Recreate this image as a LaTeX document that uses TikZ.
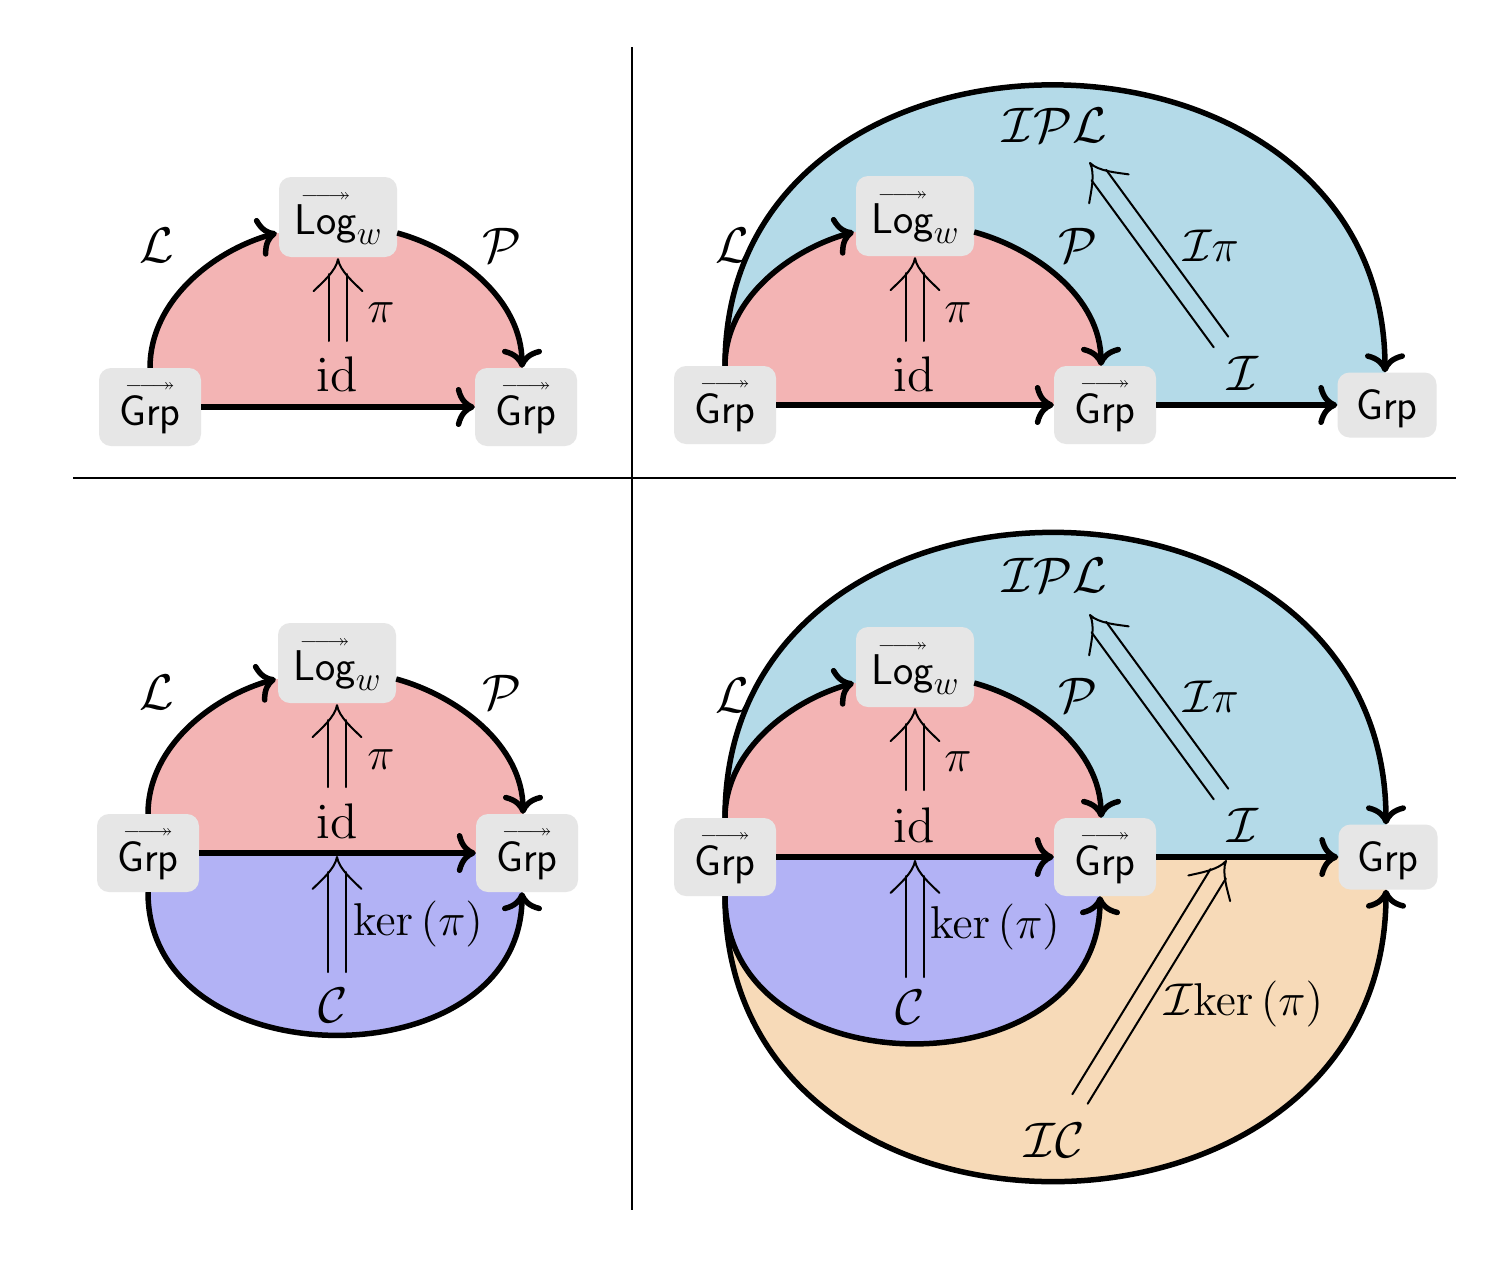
\documentclass[tikz,border=0pt]{standalone}
\usepackage{amsmath,amssymb}
\usepackage{graphicx}
\usetikzlibrary{arrows.meta,calc}
\DeclareFontShape{OML}{cmm}{m}{it}{<-6>cmmi5<6-8>cmmi7<8-11>cmmi10<11->cmmi12}{}
\DeclareFontShape{OMS}{cmsy}{m}{n}{<-6>cmsy5<6-8>cmsy7<8->cmsy10}{}
\DeclareFontShape{OT1}{cmr}{m}{n}{<-6>cmr5<6-8>cmr7<8-11>cmr10<11->cmr12}{}
\pgfdeclarelayer{background}
\pgfsetlayers{background,main}
\definecolor{pinkc}{RGB}{243,180,180}
\definecolor{lavc}{RGB}{178,178,245}
\definecolor{bluec}{RGB}{180,218,232}
\definecolor{peachc}{RGB}{247,218,184}
\definecolor{boxc}{RGB}{230,230,230}
\newcommand\ArrOver{\scalebox{1.04}[1]{$\scriptscriptstyle\relbar\joinrel\relbar\joinrel\twoheadrightarrow$}}
\newcommand\ovr[1]{\vbox{\offinterlineskip\halign{\hfil##\hfil\cr\ArrOver\cr\noalign{\kern3pt}\textsf{#1}\cr}}}
\newcommand\logw{\ovr{Log}\raisebox{-10pt}{\fontsize{34}{34}\selectfont$w$}}
\newcommand\plaingrp{\raisebox{-4pt}[\height][\depth]{\textsf{Grp}}}
% double arrow from #1 (start) to #2 (tip)
\newcommand\dblarr[2]{%
  \draw[thinln] ($(#1)!9pt!90:(#2)$) -- ($($(#2)!15pt!(#1)$)!9pt!-90:(#1)$);
  \draw[thinln] ($(#1)!9pt!-90:(#2)$) -- ($($(#2)!15pt!(#1)$)!9pt!90:(#1)$);
  \draw[thinln] ($(#2)!40.3pt!37.4:(#1)$) .. controls ($(#2)!29.1pt!34.5:(#1)$) and ($(#2)!12.2pt!9.5:(#1)$) .. (#2)
     .. controls ($(#2)!12.2pt!-9.5:(#1)$) and ($(#2)!29.1pt!-34.5:(#1)$) .. ($(#2)!40.3pt!-37.4:(#1)$);
}
\tikzset{
  gbox/.style={fill=boxc, rounded corners=12pt, inner sep=0pt, minimum width=102pt, minimum height=78pt, font=\fontsize{43}{46}\selectfont},
  lbox/.style={gbox, minimum width=118pt, minimum height=80pt},
  pbox/.style={gbox, minimum width=99pt, minimum height=65pt},
  lab/.style={inner sep=0pt, font=\fontsize{50}{60}\selectfont},
  labs/.style={inner sep=0pt, font=\fontsize{46}{54}\selectfont},
  thk/.style={line width=5.5pt},
  arr/.style={thk, -{Computer Modern Rightarrow[length=19pt,width=40pt]}},
  thinln/.style={line width=2pt, line join=round, line cap=round},
  sepline/.style={line width=1.3pt},
}
\begin{document}
\begin{tikzpicture}[x=1pt,y=-1pt]
\useasboundingbox (0,0) rectangle (1496,1266);
\begin{pgfonlayer}{background}
\fill[white] (0,0) rectangle (1496,1266);
\end{pgfonlayer}

% separators
\coordinate (v1) at (632,47); \coordinate (v2) at (632,1210);
\coordinate (h1) at (73,478); \coordinate (h2) at (1456,478);
\draw[sepline] (v1) -- (v2);
\draw[sepline] (h1) -- (h2);

% ================= Panel A =================
\node[gbox] (gA1) at (150,407) {\ovr{Grp}};
\node[lbox] (lA) at (338,217) {\logw};
\node[gbox] (gA2) at (526,407) {\ovr{Grp}};
\coordinate (aLs) at (gA1.north);
\coordinate (aLe) at ($(lA.west)+(-2,16)$);
\coordinate (aPs) at ($(lA.east)+(0,16)$);
\coordinate (aPe) at ($(gA2.north)+(-4,0)$);
\begin{pgfonlayer}{background}
\fill[pinkc] (aLs) .. controls +(0,-68) and +(-62,17) .. (aLe) -- (aPs) .. controls +(62,17) and +(0,-68) .. (aPe) -- (gA2.center) -- (gA1.center) -- cycle;
\end{pgfonlayer}
\draw[arr] (aLs) .. controls +(0,-68) and +(-62,17) .. (aLe);
\draw[arr] (aPs) .. controls +(62,17) and +(0,-68) .. (aPe);
\draw[arr] (gA1) -- (gA2);
\node[lab] (aL) at (157,245) {$\mathcal{L}$};
\node[lab] (aP) at (502,245) {$\mathcal{P}$};
\node[labs] (api) at (381,313) {$\pi$};
\node[lab] (aid) at (337,374) {$\mathrm{id}$};
\coordinate (aPi1) at (338,341);
\coordinate (aPi2) at ($(lA.south)+(0,2)$);
\dblarr{aPi1}{aPi2}

% ================= Panel B =================
\node[gbox] (gB1) at (725,405) {\ovr{Grp}};
\node[lbox] (lB) at (915,216) {\logw};
\node[gbox] (gB2) at (1105,405) {\ovr{Grp}};
\node[pbox] (gB3) at (1387,405) {\plaingrp};
\coordinate (bLs) at (gB1.north);
\coordinate (bLe) at ($(lB.west)+(-2,16)$);
\coordinate (bPs) at ($(lB.east)+(0,16)$);
\coordinate (bPe) at ($(gB2.north)+(-4,0)$);
\coordinate (bOe) at ($(gB3.north)+(-2,0)$);
\begin{pgfonlayer}{background}
\fill[bluec] (bLs) .. controls +(0,-378) and +(0,-378) .. (bOe) -- (gB3.center) -- (gB1.center) -- cycle;
\fill[pinkc] (bLs) .. controls +(0,-68) and +(-62,17) .. (bLe) -- (bPs) .. controls +(62,17) and +(0,-68) .. (bPe) -- (gB2.center) -- (gB1.center) -- cycle;
\end{pgfonlayer}
\draw[arr] (bLs) .. controls +(0,-378) and +(0,-378) .. (bOe);
\draw[arr] (bLs) .. controls +(0,-68) and +(-62,17) .. (bLe);
\draw[arr] (bPs) .. controls +(62,17) and +(0,-68) .. (bPe);
\draw[arr] (gB1) -- (gB2);
\draw[arr] (gB2) -- (gB3);
\node[lab] (bL) at (733,245) {$\mathcal{L}$};
\node[lab] (bP) at (1078,245) {$\mathcal{P}$};
\node[lab] (bIPL) at (1055,125) {$\mathcal{IPL}$};
\node[labs] (bIpi) at (1211,246) {$\mathcal{I}\pi$};
\node[labs] (bpi) at (958,313) {$\pi$};
\node[lab] (bid) at (914,374) {$\mathrm{id}$};
\node[lab] (bI) at (1243,373) {$\mathcal{I}$};
\coordinate (bPi1) at (915,341);
\coordinate (bPi2) at ($(lB.south)+(0,2)$);
\dblarr{bPi1}{bPi2}
\coordinate (bIp1) at (1221,342);
\coordinate (bIp2) at (1090,163);
\dblarr{bIp1}{bIp2}

% ================= Panel C =================
\node[gbox] (gC1) at (148,853) {\ovr{Grp}};
\node[lbox] (lC) at (337,663) {\logw};
\node[gbox] (gC2) at (527,853) {\ovr{Grp}};
\coordinate (cLs) at (gC1.north);
\coordinate (cLe) at ($(lC.west)+(-2,16)$);
\coordinate (cPs) at ($(lC.east)+(0,16)$);
\coordinate (cPe) at ($(gC2.north)+(-4,0)$);
\coordinate (cCs) at (gC1.south);
\coordinate (cCe) at ($(gC2.south)+(-5,0)$);
\begin{pgfonlayer}{background}
\fill[pinkc] (cLs) .. controls +(0,-68) and +(-62,17) .. (cLe) -- (cPs) .. controls +(62,17) and +(0,-68) .. (cPe) -- (gC2.center) -- (gC1.center) -- cycle;
\fill[lavc] (cCs) .. controls +(0,190) and +(0,190) .. (cCe) -- (gC2.center) -- (gC1.center) -- cycle;
\end{pgfonlayer}
\draw[arr] (cLs) .. controls +(0,-68) and +(-62,17) .. (cLe);
\draw[arr] (cPs) .. controls +(62,17) and +(0,-68) .. (cPe);
\draw[arr] (cCs) .. controls +(0,190) and +(0,190) .. (cCe);
\draw[arr] (gC1) -- (gC2);
\node[lab] (cL) at (157,692) {$\mathcal{L}$};
\node[lab] (cP) at (502,692) {$\mathcal{P}$};
\node[labs] (cpi) at (381,760) {$\pi$};
\node[lab] (cid) at (337,821) {$\mathrm{id}$};
\node[labs] (cker) at (418,924) {$\ker\left(\pi\right)$};
\node[lab] (cC) at (333,1005) {$\mathcal{C}$};
\coordinate (cPi1) at (337,787);
\coordinate (cPi2) at ($(lC.south)+(0,2)$);
\dblarr{cPi1}{cPi2}
\coordinate (cK1) at (337,972);
\coordinate (cK2) at (337,857);
\dblarr{cK1}{cK2}

% ================= Panel D =================
\node[gbox] (gD1) at (725,857) {\ovr{Grp}};
\node[lbox] (lD) at (915,667) {\logw};
\node[gbox] (gD2) at (1105,857) {\ovr{Grp}};
\node[pbox] (gD3) at (1388,857) {\plaingrp};
\coordinate (dLs) at (gD1.north);
\coordinate (dLe) at ($(lD.west)+(-2,16)$);
\coordinate (dPs) at ($(lD.east)+(0,16)$);
\coordinate (dPe) at ($(gD2.north)+(-4,0)$);
\coordinate (dOe) at ($(gD3.north)+(-2,0)$);
\coordinate (dCs) at (gD1.south);
\coordinate (dCe) at ($(gD2.south)+(-5,0)$);
\coordinate (dBe) at ($(gD3.south)+(-2,0)$);
\begin{pgfonlayer}{background}
\fill[bluec] (dLs) .. controls +(0,-384) and +(0,-384) .. (dOe) -- (gD3.center) -- (gD1.center) -- cycle;
\fill[peachc] (dCs) .. controls +(0,384) and +(0,384) .. (dBe) -- (gD3.center) -- (gD1.center) -- cycle;
\fill[pinkc] (dLs) .. controls +(0,-68) and +(-62,17) .. (dLe) -- (dPs) .. controls +(62,17) and +(0,-68) .. (dPe) -- (gD2.center) -- (gD1.center) -- cycle;
\fill[lavc] (dCs) .. controls +(0,196) and +(0,196) .. (dCe) -- (gD2.center) -- (gD1.center) -- cycle;
\end{pgfonlayer}
\draw[arr] (dLs) .. controls +(0,-384) and +(0,-384) .. (dOe);
\draw[arr] (dCs) .. controls +(0,384) and +(0,384) .. (dBe);
\draw[arr] (dLs) .. controls +(0,-68) and +(-62,17) .. (dLe);
\draw[arr] (dPs) .. controls +(62,17) and +(0,-68) .. (dPe);
\draw[arr] (dCs) .. controls +(0,196) and +(0,196) .. (dCe);
\draw[arr] (gD1) -- (gD2);
\draw[arr] (gD2) -- (gD3);
\node[lab] (dL) at (733,695) {$\mathcal{L}$};
\node[lab] (dP) at (1078,695) {$\mathcal{P}$};
\node[lab] (dIPL) at (1055,575) {$\mathcal{IPL}$};
\node[labs] (dIpi) at (1211,697) {$\mathcal{I}\pi$};
\node[labs] (dpi) at (958,762) {$\pi$};
\node[lab] (did) at (914,825) {$\mathrm{id}$};
\node[lab] (dI) at (1243,825) {$\mathcal{I}$};
\node[labs] (dker) at (995,927) {$\ker\left(\pi\right)$};
\node[lab] (dC) at (910,1007) {$\mathcal{C}$};
\node[labs] (dIker) at (1244,1004) {$\mathcal{I}\mathrm{ker}\left(\pi\right)$};
\node[lab] (dIC) at (1055,1140) {$\mathcal{IC}$};
\coordinate (dPi1) at (915,790);
\coordinate (dPi2) at ($(lD.south)+(0,2)$);
\dblarr{dPi1}{dPi2}
\coordinate (dK1) at (915,977);
\coordinate (dK2) at (915,861);
\dblarr{dK1}{dK2}
\coordinate (dIp1) at (1221,794);
\coordinate (dIp2) at (1090,615);
\dblarr{dIp1}{dIp2}
\coordinate (dIk1) at (1080,1099);
\coordinate (dIk2) at (1226,861);
\dblarr{dIk1}{dIk2}
\end{tikzpicture}
\end{document}
